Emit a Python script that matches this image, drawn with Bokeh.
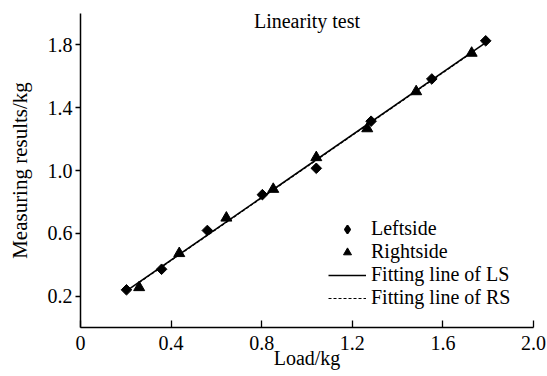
import numpy as np
from bokeh.plotting import figure
from bokeh.models import Range1d, FixedTicker, Label, Legend, LegendItem, PrintfTickFormatter
from bokeh.embed import file_html
from bokeh.resources import INLINE

# Data
left_load = [0.203, 0.358, 0.560, 0.803, 1.041, 1.283, 1.551, 1.789]
left_meas = [0.240, 0.371, 0.618, 0.846, 1.014, 1.314, 1.583, 1.826]
right_load = [0.259, 0.436, 0.644, 0.851, 1.041, 1.266, 1.482, 1.727]
right_meas = [0.255, 0.472, 0.698, 0.881, 1.083, 1.267, 1.503, 1.748]
x_ticks = [0, 0.4, 0.8, 1.2, 1.6, 2.0]
y_ticks = [0.2, 0.6, 1.0, 1.4, 1.8]
series_names = ["Leftside", "Rightside", "Fitting line of LS", "Fitting line of RS"]
title_text = "Linearity test"
x_title = "Load/kg"
y_title = "Measuring results/kg"

FONT = "'Liberation Serif', 'Times New Roman', Times, serif"
FS = "20px"

p = figure(width=547, height=376, output_backend="svg", toolbar_location=None,
           x_range=Range1d(0, 2.0), y_range=Range1d(0, 2.0),
           min_border_left=80, min_border_right=14, min_border_top=13, min_border_bottom=49)
p.outline_line_color = None
p.xgrid.visible = False
p.ygrid.visible = False
p.background_fill_color = "white"

# Axes
for ax in (p.xaxis[0], p.yaxis[0]):
    ax.axis_line_color = "black"
    ax.axis_line_width = 1.5
    ax.major_tick_line_color = "black"
    ax.major_tick_line_width = 1.3
    ax.minor_tick_line_color = None
    ax.major_label_text_font = FONT
    ax.major_label_text_font_size = FS
    ax.major_label_text_color = "black"
    ax.formatter = PrintfTickFormatter(format="%.1f")
    ax.axis_label_text_font = FONT
    ax.axis_label_text_font_style = "normal"
    ax.axis_label_text_color = "black"

p.xaxis.ticker = FixedTicker(ticks=x_ticks)
p.xaxis.major_label_overrides = {0: "0"}
p.xaxis.major_tick_in = 7
p.xaxis.major_tick_out = 0
p.xaxis.major_label_standoff = 8
p.xaxis.axis_label = x_title
p.xaxis.axis_label_text_font_size = FS
p.xaxis.axis_label_standoff = -6

p.yaxis.ticker = FixedTicker(ticks=y_ticks)
p.yaxis.major_tick_in = 0
p.yaxis.major_tick_out = 5
p.yaxis.major_label_standoff = 3
p.yaxis.axis_label = y_title
p.yaxis.axis_label_text_font_size = "21px"
p.yaxis.axis_label_standoff = 13

# Fitting lines (least squares from the data)
lx = np.array(left_load); ly = np.array(left_meas)
rx = np.array(right_load); ry = np.array(right_meas)
lk, lb = np.polyfit(lx, ly, 1)
rk, rb = np.polyfit(rx, ry, 1)
lfx = [lx.min(), lx.max()]
rfx = [rx.min(), rx.max()]

r_lfit = p.line(lfx, [lk * v + lb for v in lfx], line_color="black", line_width=1.6)
r_rfit = p.line(rfx, [rk * v + rb for v in rfx], line_color="black", line_width=1.2, line_dash="3 2")

r_left = p.scatter(left_load, left_meas, marker="square", angle=np.pi / 4, size=7.5,
                   fill_color="black", line_color="black")
# diamond glyph drawn inside the rotated squares; gives the legend its diamond key
r_left_key = p.scatter(left_load, left_meas, marker="diamond", size=7,
                       fill_color="black", line_color="black", line_width=1.8)
r_right = p.scatter(right_load, right_meas, marker="triangle", size=11,
                    fill_color="black", line_color="black")

legend = Legend(items=[
    LegendItem(label=series_names[0], renderers=[r_left_key]),
    LegendItem(label=series_names[1], renderers=[r_right]),
    LegendItem(label=series_names[2], renderers=[r_lfit]),
    LegendItem(label=series_names[3], renderers=[r_rfit]),
], location=(248, 18))
legend.label_text_font = FONT
legend.label_text_font_size = FS
legend.label_text_color = "black"
legend.glyph_width = 38
legend.glyph_height = 20
legend.label_height = 20
legend.spacing = 0
legend.padding = 0
legend.margin = 0
legend.label_standoff = 5
legend.border_line_color = None
legend.background_fill_alpha = 0
p.add_layout(legend, "center")

# Title inside the plot area
p.add_layout(Label(x=1.0, y=2.0, text=title_text, text_align="center", text_baseline="top",
                   y_offset=4, text_font=FONT, text_font_size=FS, text_color="black"))

open("out.html", "w").write(file_html(p, INLINE))
